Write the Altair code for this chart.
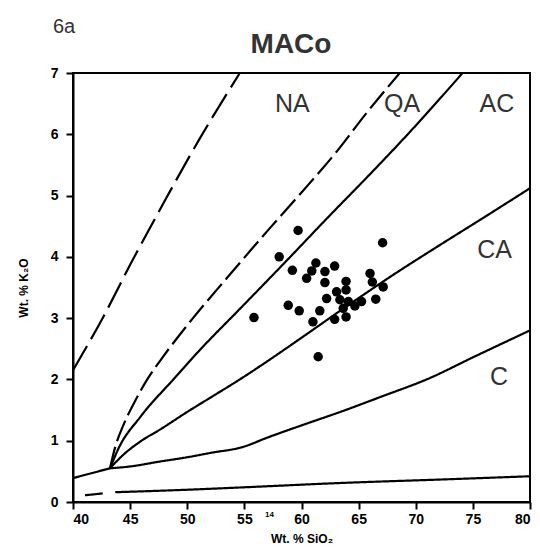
import altair as alt
import pandas as pd

# ---- data ----
pts_sio2 = [59.7, 67.1, 58.05, 61.26, 62.9, 59.2, 60.9, 62.05, 66.0, 60.45,
            62.05, 63.9, 66.2, 67.15, 63.07, 63.9, 62.2, 63.36, 64.1, 65.25,
            66.5, 58.84, 63.65, 64.67, 59.8, 61.6, 63.9, 62.9, 61.0, 55.84, 61.46]
pts_k2o = [4.43, 4.23, 4.00, 3.90, 3.85, 3.78, 3.77, 3.76, 3.73, 3.65,
           3.58, 3.60, 3.59, 3.51, 3.43, 3.46, 3.32, 3.30, 3.27, 3.27,
           3.31, 3.21, 3.16, 3.20, 3.12, 3.12, 3.02, 2.98, 2.94, 3.01, 2.37]

far_dash_x = [40.0, 42.65, 45.0, 47.9, 51.0, 54.6]
far_dash_y = [2.15, 3.02, 3.87, 4.87, 5.9, 7.0]

na_qa_x = [43.24, 43.7, 44.4, 45.3, 46.5, 48.0, 50.5, 53.45, 57.0, 60.0, 63.0, 65.7, 68.6]
na_qa_y = [0.55, 0.9, 1.25, 1.6, 2.0, 2.4, 3.0, 3.65, 4.42, 5.05, 5.7, 6.35, 7.0]

qa_ac_x = [43.24, 44.0, 45.9, 48.78, 51.1, 54.6, 58.4, 62.5, 66.0, 69.2, 74.1]
qa_ac_y = [0.55, 0.88, 1.39, 2.0, 2.48, 3.15, 3.88, 4.68, 5.35, 5.98, 7.0]

ac_ca_x = [43.24, 44.4, 46.0, 47.6, 50.0, 52.0, 54.6, 56.4, 60.0, 64.0, 68.3, 72.0, 75.6, 80.0]
ac_ca_y = [0.55, 0.77, 1.0, 1.18, 1.47, 1.7, 2.0, 2.22, 2.68, 3.2, 3.74, 4.18, 4.6, 5.12]

ca_c_x = [43.24, 45.0, 47.6, 50.0, 52.0, 54.9, 57.0, 60.0, 63.4, 67.0, 71.2, 75.0, 80.0]
ca_c_y = [0.55, 0.58, 0.66, 0.73, 0.8, 0.9, 1.05, 1.25, 1.47, 1.72, 2.02, 2.36, 2.8]

left_x = [40.0, 43.24]
left_y = [0.39, 0.55]

bottom_a_x = [41.05, 42.6]
bottom_a_y = [0.11, 0.14]
bottom_b_x = [43.7, 50.0, 55.0, 63.4, 72.7, 80.0]
bottom_b_y = [0.16, 0.2, 0.24, 0.31, 0.37, 0.42]

field_names = ["NA", "QA", "AC", "CA", "C"]
field_x = [59.2, 68.8, 77.1, 76.9, 77.3]
field_y = [6.49, 6.49, 6.49, 4.11, 2.04]

x_ticks = [40, 45, 50, 55, 60, 65, 70, 75, 80]
y_ticks = [0, 1, 2, 3, 4, 5, 6, 7]

# ---- tables ----
series = [
    ("far", "dash1", far_dash_x, far_dash_y),
    ("naqa", "dash2", na_qa_x, na_qa_y),
    ("qaac", "solid", qa_ac_x, qa_ac_y),
    ("acca", "solid", ac_ca_x, ac_ca_y),
    ("cac", "solid", ca_c_x, ca_c_y),
    ("left", "solid", left_x, left_y),
    ("bota", "solid", bottom_a_x, bottom_a_y),
    ("botb", "solid", bottom_b_x, bottom_b_y),
]
rows = []
for name, style, xs, ys in series:
    for i, (a, b) in enumerate(zip(xs, ys)):
        rows.append({"line": name, "style": style, "o": i, "x": a, "y": b})
lines_df = pd.DataFrame(rows)
pts_df = pd.DataFrame({"x": pts_sio2, "y": pts_k2o})
lab_df = pd.DataFrame({"t": field_names, "x": field_x, "y": field_y})

xscale = alt.Scale(domain=[40, 80], nice=False, zero=False)
yscale = alt.Scale(domain=[0, 7], nice=False, zero=False)

xaxis = alt.Axis(values=x_ticks, title="Wt. % SiO₂", grid=False, labelOverlap=False, format="d")
yaxis = alt.Axis(values=y_ticks, title="Wt. % K₂O", grid=False, labelOverlap=False, format="d")

lines = alt.Chart(lines_df).mark_line(color="black", strokeWidth=2.2, interpolate="monotone").encode(
    x=alt.X("x:Q", scale=xscale, axis=xaxis),
    y=alt.Y("y:Q", scale=yscale, axis=yaxis),
    detail="line:N",
    order="o:Q",
    strokeDash=alt.StrokeDash(
        "style:N",
        scale=alt.Scale(domain=["solid", "dash1", "dash2"],
                        range=[[1, 0], [28, 8], [22, 6]]),
        legend=None,
    ),
)

points = alt.Chart(pts_df).mark_circle(color="black", opacity=1, size=90).encode(
    x="x:Q", y="y:Q"
)

labels = alt.Chart(lab_df).mark_text(
    font="Liberation Sans", fontSize=25, color="#333333", align="center", baseline="middle"
).encode(x="x:Q", y="y:Q", text="t:N")

stray = alt.Chart(pd.DataFrame({"t": ["14"], "x": [57.2], "y": [-0.22]})).mark_text(
    font="Liberation Sans", fontSize=8, fontWeight="bold", color="black"
).encode(x="x:Q", y="y:Q", text="t:N")

fig_label = alt.Chart(pd.DataFrame({"t": ["6a"]})).mark_text(
    font="Liberation Sans", fontSize=20, color="#333333", align="left", baseline="alphabetic"
).encode(x=alt.value(-20), y=alt.value(-40), text="t:N")

title_text = alt.Chart(pd.DataFrame({"t": ["MACo"]})).mark_text(
    font="Liberation Sans", fontSize=28, fontWeight="bold", color="#333333",
    align="center", baseline="alphabetic"
).encode(x=alt.value(218), y=alt.value(-20), text="t:N")

chart = alt.layer(lines, points, labels, stray, fig_label, title_text).properties(
    width=457,
    height=429,
    autosize=alt.AutoSizeParams(type="none"),
    padding={"left": 65, "top": 65, "right": 2, "bottom": 46},
).configure_view(
    stroke="black", strokeWidth=2
).configure_axis(
    domainColor="black", domainWidth=2, tickColor="black", tickWidth=2, tickSize=7,
    labelFont="Liberation Sans", labelFontSize=14, labelFontWeight="bold", labelColor="black",
    titleFont="Liberation Sans", titleFontSize=12, titleFontWeight="bold", titleColor="black",
).configure_axisX(
    labelPadding=3, titlePadding=7
).configure_axisY(
    labelPadding=8, titlePadding=20
)

chart.save("out.html", embed_options={"renderer": "svg", "actions": False})
